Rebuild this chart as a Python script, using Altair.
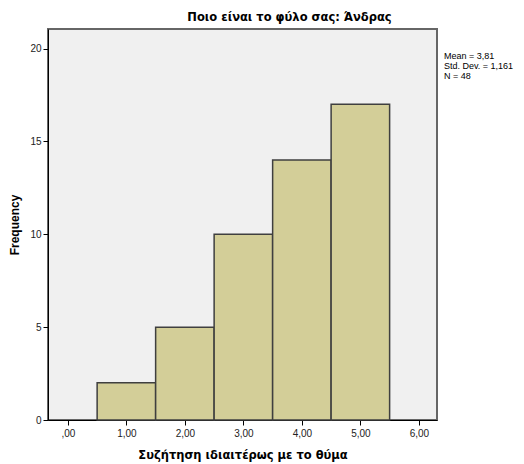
import altair as alt
import pandas as pd

bin_centers = [1, 2, 3, 4, 5]
counts = [2, 5, 10, 14, 17]
x_ticks = [0, 1, 2, 3, 4, 5, 6]
y_ticks = [0, 5, 10, 15, 20]
stats_lines = ["Mean = 3,81", "Std. Dev. = 1,161", "N = 48"]
title_text = "Ποιο είναι το φύλο σας: Άνδρας"
x_title = "Συζήτηση ιδιαιτέρως με το θύμα"
y_title = "Frequency"

df = pd.DataFrame({
    "start": [c - 0.5 for c in bin_centers],
    "end": [c + 0.5 for c in bin_centers],
    "count": counts,
})
stats_df = pd.DataFrame({"line": stats_lines, "i": list(range(len(stats_lines)))})

W, H = 389, 391

xscale = alt.Scale(domain=[-0.34, 6.31], nice=False, zero=False)
yscale = alt.Scale(domain=[0, 21.05], nice=False)

bars = alt.Chart(df).mark_rect(
    fill="#d3ce98", stroke="#3f3f3f", strokeWidth=1.5
).encode(
    x=alt.X("start:Q", scale=xscale,
            axis=alt.Axis(values=x_ticks, title=x_title, grid=False,
                          labelExpr="datum.value == 0 ? ',00' : replace(format(datum.value, '.2f'), '.', ',')",
                          labelFont="Liberation Sans", labelFontSize=10, labelColor="#222",
                          titleFont="DejaVu Sans", titleFontSize=11.5, titleFontWeight="bold",
                          titleColor="#000", titlePadding=11,
                          domainColor="#000", tickColor="#000", tickSize=5, labelPadding=3)),
    x2="end:Q",
    y=alt.Y("count:Q", scale=yscale,
            axis=alt.Axis(values=y_ticks, title=y_title, grid=False,
                          labelFont="Liberation Sans", labelFontSize=10, labelColor="#222",
                          titleFont="Liberation Sans", titleFontSize=12, titleFontWeight="bold",
                          titleColor="#000", titlePadding=8,
                          domainColor="#000", tickColor="#000", tickSize=5, labelPadding=2)),
    y2=alt.datum(0),
)

stats = alt.Chart(stats_df).mark_text(
    align="left", baseline="middle", font="Liberation Sans", fontSize=9, color="#000"
).encode(
    text="line:N",
    x=alt.value(W + 7),
    y=alt.Y("i:Q", scale=alt.Scale(domain=[0, 2], range=[27, 47]), axis=None),
)

chart = alt.layer(bars, stats).resolve_scale(y="independent").properties(
    width=W, height=H,
    title=alt.TitleParams(title_text, font="DejaVu Sans", fontSize=11.5,
                          fontWeight="bold", color="#000", anchor="middle", dx=47, offset=6),
    padding={"left": 40, "top": 21, "right": 79, "bottom": 48},
    autosize=alt.AutoSizeParams(type="none"),
).configure(
    background="white"
).configure_view(
    fill="#f0f0f0", stroke="#666666", strokeWidth=2
)

chart.save("out.html", embed_options={"renderer": "svg", "actions": False})
